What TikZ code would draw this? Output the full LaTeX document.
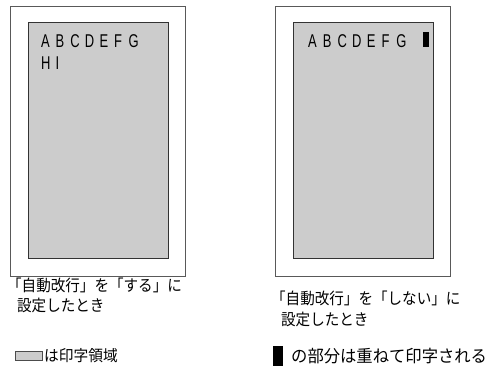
\documentclass[tikz,border=0pt]{standalone}
\usepackage{fontspec}
\newfontfamily\jp{Noto Sans CJK JP}
\newfontfamily\lat{Liberation Sans}
\begin{document}
\begin{tikzpicture}[x=1pt,y=-1pt,
  paper/.style={draw=black!65,line width=1.2pt,fill=white},
  area/.style={draw=black!80,line width=1pt,fill=black!20},
  letter/.style={inner sep=0pt,anchor=base west,font=\lat\fontsize{18.5}{18}\selectfont,xscale=0.7,transform shape},
  captxt/.style={inner sep=0pt,anchor=west,font=\jp\fontsize{16}{16}\selectfont,xscale=0.91,transform shape},
  legtxt/.style={inner sep=0pt,anchor=west}
]
\useasboundingbox (0,0) rectangle (491,372);
% left page
\node[paper,minimum width=175pt,minimum height=270pt,inner sep=0pt,anchor=north west] (lpaper) at (9.5,6) {};
\node[area,minimum width=140pt,minimum height=236pt,inner sep=0pt,anchor=north west] (larea) at (28,22) {};
\foreach \l [count=\i from 0] in {A,B,C,D,E,F,G}
  \node[letter] (la\i) at (41+14.6*\i,47) {\l};
\node[letter] (lh) at (41,70) {H};
\node[letter] (li) at (55.6,70) {I};
% right page
\node[paper,minimum width=175pt,minimum height=270pt,inner sep=0pt,anchor=north west] (rpaper) at (275,6) {};
\node[area,minimum width=140pt,minimum height=236pt,inner sep=0pt,anchor=north west] (rarea) at (293,22) {};
\foreach \l [count=\i from 0] in {A,B,C,D,E,F,G}
  \node[letter] (ra\i) at (308+14.7*\i,47) {\l};
\node[fill=black,minimum width=6pt,minimum height=15pt,inner sep=0pt,anchor=north west] (rblk) at (423,32) {};
% captions
\node[captxt] (lc1) at (7,285) {「自動改行」を「する」に};
\node[captxt] (lc2) at (17,305) {設定したとき};
\node[captxt] (rc1) at (271,298) {「自動改行」を「しない」に};
\node[captxt] (rc2) at (281,319) {設定したとき};
% legend
\node[draw=black!70,line width=0.8pt,fill=black!20,minimum width=27pt,minimum height=9pt,inner sep=0pt,anchor=north west] (lgbox) at (15,351) {};
\node[legtxt,font=\jp\fontsize{15.5}{16}\selectfont,xscale=0.95,transform shape] (lgtxt) at (44,356) {は印字領域};
\node[fill=black,minimum width=10pt,minimum height=20pt,inner sep=0pt,anchor=north west] (rgblk) at (273,346) {};
\node[legtxt,font=\jp\fontsize{17}{18}\selectfont,xscale=0.96,transform shape] (rgtxt) at (291,356) {の部分は重ねて印字される};
\end{tikzpicture}
\end{document}
